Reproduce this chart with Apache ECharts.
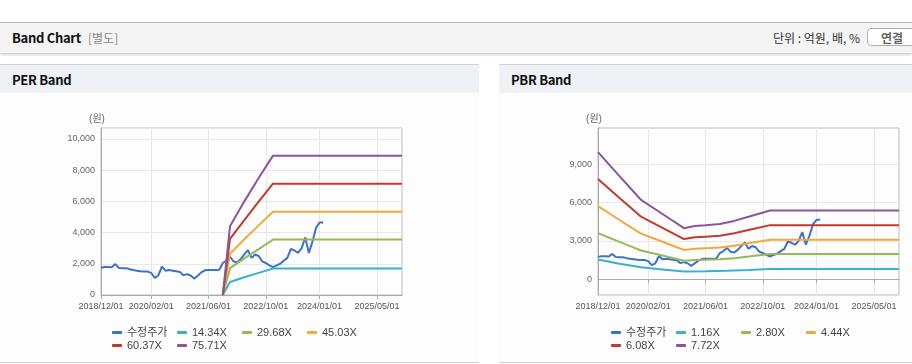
<!DOCTYPE html>
<html>
<head>
<meta charset="utf-8">
<script src="https://cdn.jsdelivr.net/npm/echarts@6/dist/echarts.min.js"></script>
<style>
  body { margin: 0; background: #fff; font-family: "Noto Sans CJK KR", sans-serif; }
  #top {
    position: absolute; left: 0; top: 22px; width: 912px; height: 30px;
    border-top: 1px solid #b3b3b3; background: #f4f4f4;
    box-shadow: 0 2px 2px rgba(0, 0, 0, 0.18);
  }
  #top .title { position: absolute; left: 12px; line-height: 30px; font-size: 13px; font-weight: bold; color: #111; letter-spacing: -0.3px; }
  #top .sub { position: absolute; left: 88px; line-height: 30px; font-size: 12px; color: #8a8a8a; }
  #top .unit { position: absolute; right: 52px; line-height: 30px; font-size: 12px; color: #333; }
  #top .btn {
    position: absolute; left: 867px; top: 5px; width: 50px; height: 18px; line-height: 17px;
    border: 1px solid #b0b0b0; border-radius: 4px; background: #fff;
    font-size: 12px; font-weight: bold; color: #666; padding-left: 13px; box-sizing: border-box;
  }
  .panel { position: absolute; top: 64px; height: 298px; background: #fdfdfd; border-bottom: 1px solid #d0d0d0; }
  .ph {
    height: 28px; line-height: 29px; border-top: 1px solid #d3d3d3; background: #eef2f7;
    padding-left: 12px; font-size: 13px; font-weight: bold; color: #111; letter-spacing: -0.3px;
  }
  .chart { width: 100%; height: 269px; }
</style>
</head>
<body>
<div id="top">
  <span class="title">Band Chart</span><span class="sub">[별도]</span>
  <span class="unit">단위 : 억원, 배, %</span>
  <span class="btn">연결</span>
</div>
<div class="panel" style="left:0;width:479px;"><div class="ph">PER Band</div><div class="chart" id="per"></div></div>
<div class="panel" style="left:499px;width:413px;"><div class="ph">PBR Band</div><div class="chart" id="pbr"></div></div>

<script>
const months = [
  '2018/12/01',
  '2019/01/01','2019/02/01','2019/03/01','2019/04/01','2019/05/01','2019/06/01','2019/07/01','2019/08/01','2019/09/01','2019/10/01','2019/11/01','2019/12/01',
  '2020/01/01','2020/02/01','2020/03/01','2020/04/01','2020/05/01','2020/06/01','2020/07/01','2020/08/01','2020/09/01','2020/10/01','2020/11/01','2020/12/01',
  '2021/01/01','2021/02/01','2021/03/01','2021/04/01','2021/05/01','2021/06/01','2021/07/01','2021/08/01','2021/09/01','2021/10/01','2021/11/01','2021/12/01',
  '2022/01/01','2022/02/01','2022/03/01','2022/04/01','2022/05/01','2022/06/01','2022/07/01','2022/08/01','2022/09/01','2022/10/01','2022/11/01','2022/12/01',
  '2023/01/01','2023/02/01','2023/03/01','2023/04/01','2023/05/01','2023/06/01','2023/07/01','2023/08/01','2023/09/01','2023/10/01','2023/11/01','2023/12/01',
  '2024/01/01','2024/02/01','2024/03/01','2024/04/01','2024/05/01','2024/06/01','2024/07/01','2024/08/01','2024/09/01','2024/10/01','2024/11/01','2024/12/01',
  '2025/01/01','2025/02/01','2025/03/01','2025/04/01','2025/05/01','2025/06/01','2025/07/01','2025/08/01','2025/09/01','2025/10/01','2025/11/01','2025/12/01'
];
const tickLabels = ['2018/12/01', '2020/02/01', '2021/06/01', '2022/10/01', '2024/01/01', '2025/05/01'];

// 수정주가 (monthly, from 2018/12)
const price = [
  1750, 1800, 1800, 1780, 1980, 1730, 1720, 1720, 1650, 1600, 1560, 1520,
  1500, 1500, 1420, 1100, 1250, 1820, 1560, 1600, 1560, 1520, 1480, 1260,
  1340, 1250, 1050, 1240, 1450, 1580, 1600, 1600, 1600, 1620, 2050, 2200,
  2450, 2150, 2090, 2300, 2600, 2880, 2380, 2600, 2500, 2150, 2050, 1900,
  1780, 1900, 2000, 2200, 2380, 2950, 2850, 2700, 3000, 3690, 2700, 3400,
  4300, 4650, 4650
];

const perNames = ['14.34X', '29.68X', '45.03X', '60.37X', '75.71X'];
const per1 = [['2021/10/01', 0], ['2021/12/01', 830], ['2022/04/01', 1140], ['2022/08/01', 1420], ['2022/12/01', 1700], ['2025/12/01', 1700]];
const per2 = [['2021/10/01', 0], ['2021/12/01', 1720], ['2022/04/01', 2350], ['2022/08/01', 2940], ['2022/12/01', 3550], ['2025/12/01', 3550]];
const per3 = [['2021/10/01', 0], ['2021/12/01', 2640], ['2022/04/01', 3570], ['2022/08/01', 4460], ['2022/12/01', 5340], ['2025/12/01', 5340]];
const per4 = [['2021/10/01', 0], ['2021/12/01', 3600], ['2022/04/01', 4800], ['2022/08/01', 5980], ['2022/12/01', 7130], ['2025/12/01', 7130]];
const per5 = [['2021/10/01', 0], ['2021/12/01', 4400], ['2022/04/01', 6000], ['2022/08/01', 7500], ['2022/12/01', 8930], ['2025/12/01', 8930]];

const pbrNames = ['1.16X', '2.80X', '4.44X', '6.08X', '7.72X'];
const pbr1 = [['2018/12/01', 1540], ['2019/06/01', 1210], ['2019/12/01', 930], ['2020/06/01', 770], ['2020/12/01', 610],
  ['2021/06/01', 630], ['2021/12/01', 660], ['2022/06/01', 730], ['2022/12/01', 810], ['2025/12/01', 810]];
const pbr2 = [['2018/12/01', 3600], ['2019/03/01', 3260], ['2019/06/01', 2920], ['2019/09/01', 2590], ['2019/12/01', 2250], ['2020/06/01', 1850], ['2020/12/01', 1450],
  ['2021/03/01', 1510], ['2021/06/01', 1530], ['2021/10/01', 1570], ['2022/02/01', 1650], ['2022/06/01', 1770], ['2022/12/01', 1970], ['2025/12/01', 1970]];
const pbr3 = [['2018/12/01', 5720], ['2019/03/01', 5180], ['2019/06/01', 4630], ['2019/09/01', 4100], ['2019/12/01', 3570], ['2020/06/01', 2930], ['2020/12/01', 2290],
  ['2021/03/01', 2390], ['2021/06/01', 2430], ['2021/10/01', 2480], ['2022/02/01', 2620], ['2022/06/01', 2810], ['2022/12/01', 3090], ['2025/12/01', 3090]];
const pbr4 = [['2018/12/01', 7830], ['2019/03/01', 7090], ['2019/06/01', 6350], ['2019/09/01', 5620], ['2019/12/01', 4890], ['2020/06/01', 4020], ['2020/12/01', 3140],
  ['2021/03/01', 3280], ['2021/06/01', 3330], ['2021/10/01', 3400], ['2022/02/01', 3590], ['2022/06/01', 3850], ['2022/12/01', 4230], ['2025/12/01', 4230]];
const pbr5 = [['2018/12/01', 9940], ['2019/03/01', 9000], ['2019/06/01', 8060], ['2019/09/01', 7130], ['2019/12/01', 6200], ['2020/06/01', 5100], ['2020/12/01', 3990],
  ['2021/03/01', 4160], ['2021/06/01', 4220], ['2021/10/01', 4320], ['2022/02/01', 4560], ['2022/06/01', 4880], ['2022/12/01', 5370], ['2025/12/01', 5370]];

const colors = ['#3b74c6', '#3bb1c9', '#98ba56', '#f2a93b', '#c23a2c', '#8b559e'];
const latin = '"Liberation Sans", "Noto Sans CJK KR", sans-serif';

function makeOption(gridLeft, yAxis, names, bands) {
  const isTick = (i, v) => tickLabels.includes(v);
  const series = [{ name: '수정주가', data: price }].concat(bands.map((d, i) => ({ name: names[i], data: d })));
  return {
    animation: false,
    color: colors,
    grid: {
      left: gridLeft, top: 35, width: 301, height: 167,
      show: true, borderColor: '#bdbdbd', borderWidth: 1
    },
    legend: {
      left: 107, top: 229, width: 270,
      icon: 'roundRect', itemWidth: 10, itemHeight: 3, itemGap: 2,
      selectedMode: false,
      textStyle: { fontSize: 11, color: '#444', width: 48, lineHeight: 11, fontFamily: latin },
      data: ['수정주가'].concat(names)
    },
    xAxis: {
      type: 'category',
      data: months,
      boundaryGap: false,
      axisLine: { lineStyle: { color: '#aaa' } },
      axisTick: { interval: isTick, length: 4, lineStyle: { color: '#aaa' } },
      axisLabel: { interval: isTick, margin: 7, fontSize: 9, color: '#555', fontFamily: latin },
      splitLine: { show: true, interval: isTick, lineStyle: { color: '#e8e8e8' } }
    },
    yAxis: Object.assign({
      type: 'value',
      name: '(원)',
      nameGap: 4,
      nameTextStyle: { fontSize: 10, color: '#666', align: 'center', padding: [0, 8, 0, 0], fontFamily: latin },
      axisLine: { show: true, lineStyle: { color: '#aaa' } },
      splitLine: { lineStyle: { color: '#e8e8e8' } }
    }, yAxis),
    series: series.map(s => Object.assign({
      type: 'line', showSymbol: false, symbol: 'none',
      lineStyle: { width: 2 }
    }, s))
  };
}

const fmt = v => v.toLocaleString('en-US');

const perChart = echarts.init(document.getElementById('per'));
perChart.setOption(makeOption(101, {
  min: 0, max: 10700, interval: 2000,
  axisTick: { show: false },
  axisLabel: { showMaxLabel: false, formatter: fmt, margin: 6, fontSize: 9, color: '#666', fontFamily: latin }
}, perNames, [per1, per2, per3, per4, per5]));

const pbrChart = echarts.init(document.getElementById('pbr'));
pbrChart.setOption(makeOption(99, {
  min: -1230, max: 11820,
  axisTick: { show: false, customValues: [0, 3000, 6000, 9000] },
  axisLabel: { customValues: [0, 3000, 6000, 9000], formatter: fmt, margin: 6, fontSize: 9, color: '#666', fontFamily: latin }
}, pbrNames, [pbr1, pbr2, pbr3, pbr4, pbr5]));

window.addEventListener('resize', () => { perChart.resize(); pbrChart.resize(); });
</script>
</body>
</html>
